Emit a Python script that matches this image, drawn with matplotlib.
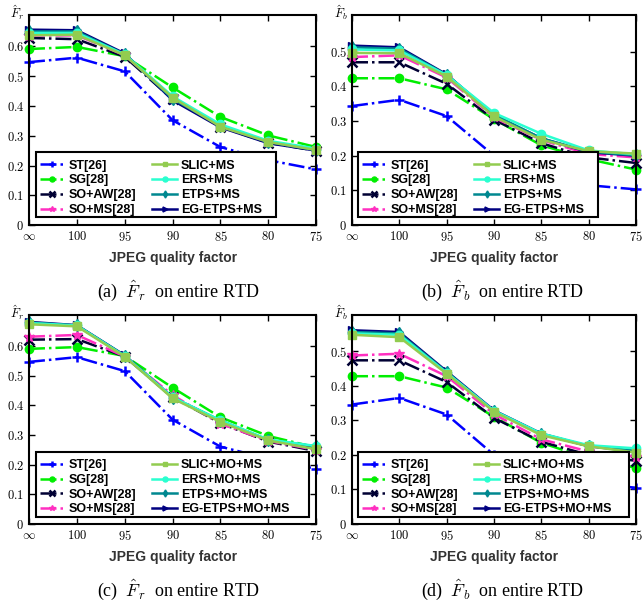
import matplotlib.pyplot as plt
from matplotlib.patches import Rectangle

plt.rcParams['mathtext.fontset'] = 'cm'

quality = [r'$\infty$', '$100$', '$95$', '$90$', '$85$', '$80$', '$75$']

# (a) F_r, mean shift
a_st = [0.547, 0.562, 0.516, 0.352, 0.262, 0.218, 0.187]
a_sg = [0.591, 0.598, 0.567, 0.462, 0.363, 0.301, 0.262]
a_soaw = [0.628, 0.624, 0.565, 0.422, 0.330, 0.276, 0.250]
a_soms = [0.636, 0.637, 0.570, 0.430, 0.332, 0.279, 0.252]
a_slic = [0.637, 0.639, 0.570, 0.428, 0.330, 0.279, 0.252]
a_ers = [0.645, 0.645, 0.573, 0.432, 0.338, 0.283, 0.257]
a_etps = [0.650, 0.650, 0.573, 0.424, 0.333, 0.279, 0.252]
a_eg = [0.656, 0.654, 0.576, 0.419, 0.328, 0.275, 0.250]

# (b) F_b, mean shift
b_st = [0.343, 0.361, 0.314, 0.200, 0.140, 0.115, 0.103]
b_sg = [0.423, 0.423, 0.391, 0.305, 0.230, 0.190, 0.160]
b_soaw = [0.469, 0.469, 0.407, 0.304, 0.236, 0.195, 0.179]
b_soms = [0.484, 0.489, 0.425, 0.310, 0.245, 0.205, 0.195]
b_slic = [0.496, 0.495, 0.428, 0.313, 0.246, 0.213, 0.206]
b_ers = [0.506, 0.503, 0.432, 0.323, 0.263, 0.215, 0.204]
b_etps = [0.512, 0.508, 0.433, 0.318, 0.250, 0.212, 0.201]
b_eg = [0.517, 0.512, 0.434, 0.316, 0.250, 0.210, 0.200]

# (c) F_r, merge + mean shift
c_st = [0.547, 0.563, 0.516, 0.352, 0.261, 0.220, 0.186]
c_sg = [0.591, 0.597, 0.567, 0.460, 0.360, 0.297, 0.258]
c_soaw = [0.622, 0.624, 0.565, 0.428, 0.340, 0.278, 0.246]
c_soms = [0.632, 0.638, 0.565, 0.435, 0.338, 0.280, 0.250]
c_slic = [0.674, 0.667, 0.565, 0.424, 0.344, 0.282, 0.252]
c_ers = [0.678, 0.670, 0.567, 0.428, 0.350, 0.285, 0.263]
c_etps = [0.680, 0.670, 0.568, 0.426, 0.348, 0.283, 0.262]
c_eg = [0.682, 0.671, 0.569, 0.427, 0.349, 0.283, 0.258]

# (d) F_b, merge + mean shift
d_st = [0.346, 0.365, 0.317, 0.200, 0.140, 0.118, 0.105]
d_sg = [0.428, 0.428, 0.395, 0.310, 0.235, 0.190, 0.163]
d_soaw = [0.474, 0.474, 0.411, 0.307, 0.238, 0.200, 0.183]
d_soms = [0.488, 0.493, 0.428, 0.318, 0.245, 0.210, 0.195]
d_slic = [0.548, 0.541, 0.435, 0.325, 0.257, 0.225, 0.207]
d_ers = [0.552, 0.548, 0.438, 0.328, 0.262, 0.228, 0.219]
d_etps = [0.556, 0.552, 0.440, 0.327, 0.260, 0.226, 0.212]
d_eg = [0.561, 0.556, 0.442, 0.329, 0.262, 0.225, 0.210]

names_ms = ['ST[26]', 'SG[28]', 'SO+AW[28]', 'SO+MS[28]',
            'SLIC+MS', 'ERS+MS', 'ETPS+MS', 'EG-ETPS+MS']
names_mo = ['ST[26]', 'SG[28]', 'SO+AW[28]', 'SO+MS[28]',
            'SLIC+MO+MS', 'ERS+MO+MS', 'ETPS+MO+MS', 'EG-ETPS+MO+MS']

styles = [
    ('#0000ff', '-.', '+'),
    ('#00ee00', '-.', 'o'),
    ('#000033', '-.', 'x'),
    ('#ff2fc0', '-.', '*'),
    ('#92cc50', '-', 's'),
    ('#2affd0', '-', 'o'),
    ('#008890', '-', 'd'),
    ('#000080', '-', '>'),
]
draw_order = [0, 1, 2, 3, 7, 6, 5, 4]

# series, names, y label, y top, axes rect, legend box (axes coords), caption, caption pos
panels = [
    ([a_st, a_sg, a_soaw, a_soms, a_slic, a_ers, a_etps, a_eg], names_ms,
     r'$\hat{F}_r$', 0.705, [0.045, 0.626, 0.446, 0.349], (0.024, 0.038, 0.837, 0.310),
     r'(a)  $\hat{F}_r$  on entire RTD', (0.276, 0.517)),
    ([b_st, b_sg, b_soaw, b_soms, b_slic, b_ers, b_etps, b_eg], names_ms,
     r'$\hat{F}_b$', 0.605, [0.5466, 0.626, 0.441, 0.349], (0.021, 0.038, 0.845, 0.310),
     r'(b)  $\hat{F}_b$  on entire RTD', (0.78, 0.517)),
    ([c_st, c_sg, c_soaw, c_soms, c_slic, c_ers, c_etps, c_eg], names_mo,
     r'$\hat{F}_r$', 0.705, [0.045, 0.1296, 0.446, 0.347], (0.024, 0.035, 0.95, 0.308),
     r'(c)  $\hat{F}_r$  on entire RTD', (0.276, 0.02)),
    ([d_st, d_sg, d_soaw, d_soms, d_slic, d_ers, d_etps, d_eg], names_mo,
     r'$\hat{F}_b$', 0.605, [0.5466, 0.1296, 0.441, 0.347], (0.021, 0.035, 0.955, 0.308),
     r'(d)  $\hat{F}_b$  on entire RTD', (0.78, 0.02)),
]

fig = plt.figure(figsize=(6.44, 6.02), dpi=100)

for series, names, ylab, ytop, rect, lbox, caption, cpos in panels:
    ax = fig.add_axes(rect)
    x = list(range(len(quality)))
    handles = [None] * len(series)
    for i in draw_order:
        color, ls, mk = styles[i]
        mew = 1.8 if mk in ('+', 'x') else 1.0
        ms = 7 if mk in ('+', 'x', '*') else 6
        line, = ax.plot(x, series[i], color=color, linestyle=ls, marker=mk,
                        markersize=ms, markeredgewidth=mew, linewidth=1.8,
                        markerfacecolor=color, markeredgecolor=color,
                        clip_on=False)
        handles[i] = line

    ax.set_xlim(0, 6)
    ax.set_ylim(0, ytop)
    ax.set_xticks(x)
    ax.set_xticklabels(quality, fontsize=9)
    yt = [0, 0.1, 0.2, 0.3, 0.4, 0.5, 0.6] if ytop > 0.65 else [0, 0.1, 0.2, 0.3, 0.4, 0.5]
    ax.set_yticks(yt)
    ax.set_yticklabels(['$%g$' % v for v in yt], fontsize=9)
    ax.tick_params(direction='in', top=True, right=True, length=4, width=1)
    for s in ax.spines.values():
        s.set_linewidth(1.5)
    ax.set_xlabel('JPEG quality factor', fontsize=10, fontweight='bold',
                  family='Liberation Sans', color='#333333', labelpad=5)
    ax.text(-0.04, 1.01, ylab, transform=ax.transAxes, fontsize=9,
            ha='center', va='center')

    # legend box drawn separately so it can be wider than its entries
    ax.add_patch(Rectangle(lbox[:2], lbox[2], lbox[3], transform=ax.transAxes,
                           facecolor='white', edgecolor='black', linewidth=1.5,
                           zorder=4.5, clip_on=False))
    ax.legend(handles, names, ncol=2, loc='lower left',
              bbox_to_anchor=(lbox[0], lbox[1] - 0.012), borderaxespad=0,
              prop={'family': 'Liberation Sans', 'weight': 'bold', 'size': 9},
              handlelength=2.0, handletextpad=0.3, labelspacing=0.22,
              columnspacing=1.3, borderpad=0.3, frameon=False, markerscale=0.6)

    fig.text(cpos[0], cpos[1], caption, ha='center', va='center',
             fontsize=13, family='Liberation Serif')

fig.savefig('out.png', dpi=100)
